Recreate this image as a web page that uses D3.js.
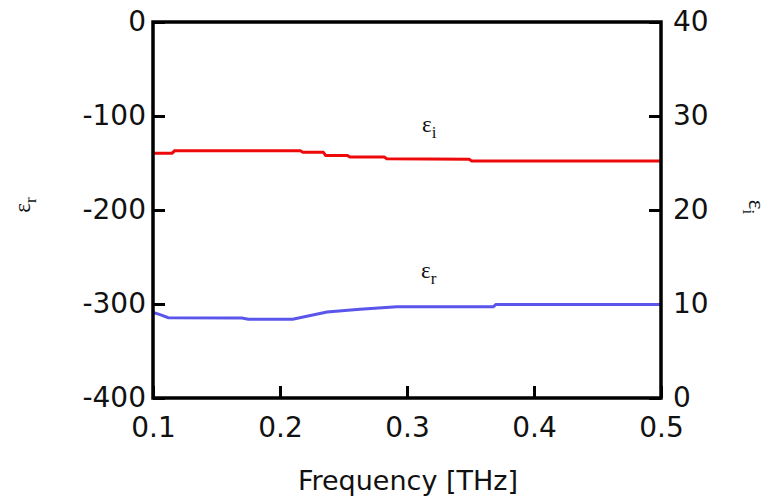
<!DOCTYPE html>
<html>
<head>
<meta charset="utf-8">
<script src="https://cdn.jsdelivr.net/npm/d3@7"></script>
<style>
  body { margin: 0; background: #fff; }
  .tick text { font-family: "DejaVu Sans", sans-serif; font-size: 28px; fill: #111; }
  .tick line { stroke: #000; stroke-width: 3; }
</style>
</head>
<body>
<div id="chart"></div>
<script>
// chart data
var freqTicks = [0.1, 0.2, 0.3, 0.4, 0.5];
var leftTicks = [0, -100, -200, -300, -400];
var rightTicks = [0, 10, 20, 30, 40];

// eps_i (right axis)
var epsIFreq = [0.1, 0.115, 0.117, 0.216, 0.218, 0.234, 0.236, 0.253, 0.255, 0.282, 0.284, 0.349, 0.351, 0.5];
var epsIVal  = [26.05, 26.05, 26.3, 26.3, 26.15, 26.15, 25.8, 25.8, 25.65, 25.65, 25.45, 25.4, 25.2, 25.2];

// eps_r (left axis)
var epsRFreq = [0.1, 0.105, 0.112, 0.17, 0.175, 0.21, 0.237, 0.263, 0.292, 0.368, 0.37, 0.5];
var epsRVal  = [-309, -311, -314.5, -315, -316.3, -316.3, -308.5, -305.5, -303, -303, -300.5, -300.5];

var svgWidth = 771;
var svgHeight = 499;

var margin = { top: 22, right: 110, bottom: 101, left: 153 };
var width = svgWidth - margin.left - margin.right;
var height = svgHeight - margin.top - margin.bottom;

var svg = d3.select("#chart")
    .append("svg")
    .attr("width", svgWidth)
    .attr("height", svgHeight);

var chartGroup = svg.append("g")
    .attr("transform", `translate(${margin.left}, ${margin.top})`);

var xScale = d3.scaleLinear().domain([0.1, 0.5]).range([0, width]);
var yLeft = d3.scaleLinear().domain([-400, 0]).range([height, 0]);
var yRight = d3.scaleLinear().domain([0, 40]).range([height, 0]);

// axes with inward ticks
var bottomAxis = d3.axisBottom(xScale).tickValues(freqTicks)
    .tickSizeInner(-12).tickSizeOuter(0).tickPadding(19)
    .tickFormat(d3.format(".1f"));
var leftAxis = d3.axisLeft(yLeft).tickValues(leftTicks)
    .tickSizeInner(-12).tickSizeOuter(0).tickPadding(7)
    .tickFormat(d => d < 0 ? "-" + Math.abs(d) : d);
var rightAxis = d3.axisRight(yRight).tickValues(rightTicks)
    .tickSizeInner(-12).tickSizeOuter(0).tickPadding(12);

chartGroup.append("g")
    .attr("transform", `translate(0, ${height})`)
    .call(bottomAxis);
chartGroup.append("g")
    .call(leftAxis);
chartGroup.append("g")
    .attr("transform", `translate(${width}, 0)`)
    .call(rightAxis);

chartGroup.selectAll(".domain").remove();

// lines
var redData = epsIFreq.map((f, i) => ({ f: f, v: epsIVal[i] }));
var blueData = epsRFreq.map((f, i) => ({ f: f, v: epsRVal[i] }));

chartGroup.append("path")
    .datum(redData)
    .attr("fill", "none")
    .attr("stroke", "#ee0a0a")
    .attr("stroke-width", 3)
    .attr("d", d3.line().x(d => xScale(d.f)).y(d => yRight(d.v)));

chartGroup.append("path")
    .datum(blueData)
    .attr("fill", "none")
    .attr("stroke", "#5a55eb")
    .attr("stroke-width", 3)
    .attr("d", d3.line().x(d => xScale(d.f)).y(d => yLeft(d.v)));

// frame
chartGroup.append("rect")
    .attr("width", width)
    .attr("height", height)
    .attr("fill", "none")
    .attr("stroke", "#000")
    .attr("stroke-width", 3.5);

// series labels
function epsLabel(g, sub) {
    g.attr("font-family", "'Liberation Serif', serif").attr("fill", "#111");
    g.append("tspan").attr("font-size", 23).text("ε");
    g.append("tspan").attr("font-size", 17).attr("dy", 6).text(sub);
}

chartGroup.append("text")
    .attr("x", xScale(0.3) + 15)
    .attr("y", 110)
    .call(epsLabel, "i");

chartGroup.append("text")
    .attr("x", xScale(0.3) + 14)
    .attr("y", 256)
    .call(epsLabel, "r");

// axis titles
chartGroup.append("text")
    .attr("transform", `translate(${-margin.left + 30}, ${height / 2 - 5}) rotate(-90)`)
    .attr("text-anchor", "middle")
    .call(epsLabel, "r");

chartGroup.append("text")
    .attr("transform", `translate(${width + 88}, ${height / 2 - 3}) rotate(90)`)
    .attr("text-anchor", "middle")
    .call(epsLabel, "i");

chartGroup.append("text")
    .attr("x", width / 2 + 1)
    .attr("y", height + 92)
    .attr("text-anchor", "middle")
    .attr("font-family", "'DejaVu Sans', sans-serif")
    .attr("font-size", 27)
    .attr("fill", "#111")
    .text("Frequency [THz]");
</script>
</body>
</html>
